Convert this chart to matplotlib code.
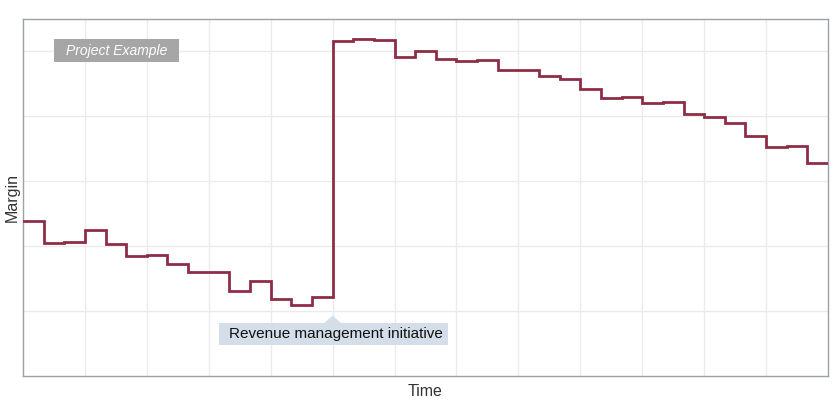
import matplotlib
matplotlib.use('Agg')
import matplotlib.pyplot as plt
from matplotlib.patches import Polygon, Rectangle

plt.rcParams['font.family'] = ['Liberation Sans', 'DejaVu Sans']

# one value per period, three periods per grid interval
margin = [2.385, 2.041, 2.067, 2.246, 2.026, 1.841, 1.856, 1.723, 1.600, 1.600,
          1.303, 1.456, 1.185, 1.097, 1.220, 5.154, 5.179, 5.164, 4.913, 5.005,
          4.871, 4.841, 4.856, 4.713, 4.703, 4.620, 4.564, 4.420, 4.277, 4.297,
          4.205, 4.215, 4.026, 3.979, 3.892, 3.697, 3.523, 3.533, 3.282]
periods = [i / 3 for i in range(len(margin) + 1)]
initiative_at = 15  # period where the initiative starts
label_note = "Revenue management initiative"
label_tag = "Project Example"

fig = plt.figure(figsize=(8.4, 4.04), dpi=100)
ax = fig.add_axes([0.0274, 0.0693, 0.9583, 0.8847])

ax.plot(periods, margin + [margin[-1]], drawstyle='steps-post',
        color='#8e2d46', lw=2, solid_joinstyle='miter', zorder=3)

ax.set_xlim(0, 13)
ax.set_ylim(0, 5.5)
ax.set_xticks(range(1, 13))
ax.set_yticks(range(1, 6))
ax.tick_params(length=0, labelbottom=False, labelleft=False)
ax.grid(True, color='#ebebeb', lw=1)
ax.set_axisbelow(True)
for s in ax.spines.values():
    s.set_color('#9aa1aa')
    s.set_linewidth(1)

ax.set_xlabel('Time', fontsize=11.5, color='#333333', labelpad=6)
ax.set_ylabel('Margin', fontsize=11.5, color='#333333', labelpad=2)

# callout under the jump
xj = periods[initiative_at]
ax.add_patch(Rectangle((3.16, 0.48), 3.71, 0.34, facecolor='#d3dee8',
                       edgecolor='none', zorder=4))
ax.add_patch(Polygon([[xj - 0.14, 0.81], [xj, 0.93], [xj + 0.14, 0.81]],
                     closed=True, facecolor='#d3dee8', edgecolor='none', zorder=4))
ax.text(5.05, 0.645, label_note, ha='center', va='center', fontsize=11,
        color='#111111', zorder=5)

ax.add_patch(Rectangle((0.5, 4.835), 2.016, 0.345, facecolor='#a6a6a6',
                       edgecolor='none', zorder=4))
ax.text(1.508, 5.005, label_tag, ha='center', va='center', fontsize=10,
        style='italic', color='white', zorder=5)

fig.savefig('out.png', dpi=100)
